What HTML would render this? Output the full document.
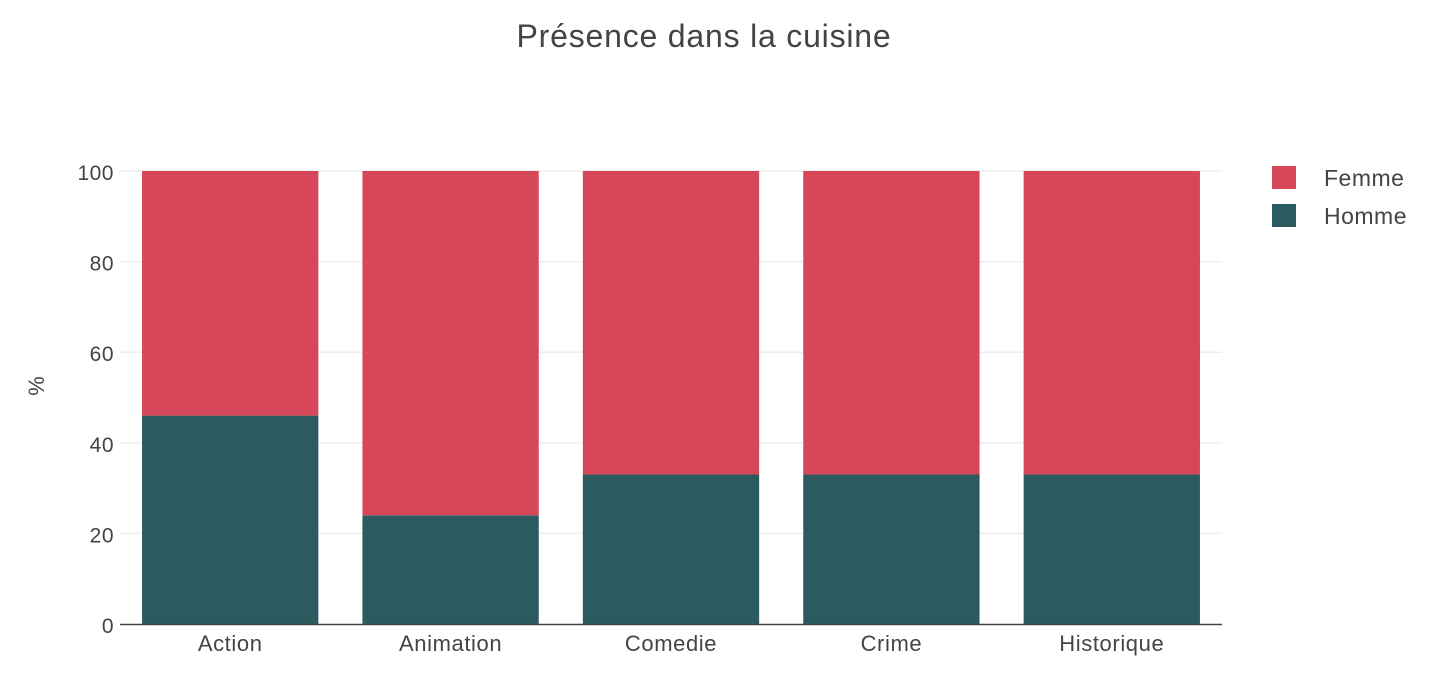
<!DOCTYPE html>
<html><head><meta charset="utf-8">
<style>
body{margin:0;background:#fff;}
svg{display:block;font-family:"Liberation Sans","DejaVu Sans",sans-serif;}
</style></head>
<body>
<svg id="chart" width="1448" height="680">
<text x="704" y="47" text-anchor="middle" font-size="32" letter-spacing="0.8" fill="#444">Présence dans la cuisine</text>
<text transform="translate(44,386) rotate(-90)" text-anchor="middle" font-size="22" fill="#444">%</text>
<g id="grid"></g><g id="bars"></g><g id="xaxis"></g><g id="yaxis"></g>
<g>
<rect x="1272" y="166" width="24" height="23" fill="#d64759"/>
<text x="1324" y="186" font-size="23" letter-spacing="0.5" fill="#444">Femme</text>
<rect x="1272" y="204" width="24" height="23" fill="#2c5b5f"/>
<text x="1324" y="224" font-size="23" letter-spacing="0.5" fill="#444">Homme</text>
</g>
</svg>
<script>
const categories=["Action","Animation","Comedie","Crime","Historique"];
const homme=[46,24,33,33,33];
const femme=[54,76,67,67,67];
const yTicks=[0,20,40,60,80,100];
const NS="http://www.w3.org/2000/svg";
const X0=120,X1=1222,Y0=624,Y1=171;
const band=(X1-X0)/categories.length;
function xs(i){return X0+band*i;}
function ys(v){return Y0-(Y0-Y1)*v/100;}
function mk(t,a,p){const e=document.createElementNS(NS,t);for(const k in a)e.setAttribute(k,a[k]);p.appendChild(e);return e;}
const grid=document.getElementById('grid'),bars=document.getElementById('bars'),xa=document.getElementById('xaxis'),ya=document.getElementById('yaxis');
yTicks.forEach(t=>{
  if(t>0){const l=mk('line',{x1:X0,x2:X1,y1:ys(t),y2:ys(t),stroke:'#eee','stroke-width':1.5},grid);
  
  }
  const tx=mk('text',{x:X0-6,y:ys(t)+9,'text-anchor':'end','font-size':21,'letter-spacing':0.5,fill:'#444'},ya);
  tx.textContent=t;
  
  
});
const bw=band*0.8;
categories.forEach((c,i)=>{
  const x=xs(i)+band*0.1;
  const h=mk('rect',{x:x,y:ys(homme[i]),width:bw,height:Y0-ys(homme[i]),fill:'#2c5b5f'},bars);
  
  
  const f=mk('rect',{x:x,y:ys(homme[i]+femme[i]),width:bw,height:ys(homme[i])-ys(homme[i]+femme[i]),fill:'#d64759'},bars);
  
  
  const t=mk('text',{x:xs(i)+band/2,y:651,'text-anchor':'middle','font-size':22,'letter-spacing':0.6,fill:'#444'},xa);
  t.textContent=c;
  
  
});
const ax=mk('line',{x1:X0,x2:X1,y1:Y0+0.5,y2:Y0+0.5,stroke:'#444','stroke-width':1.5},xa);


</script>
</body></html>
